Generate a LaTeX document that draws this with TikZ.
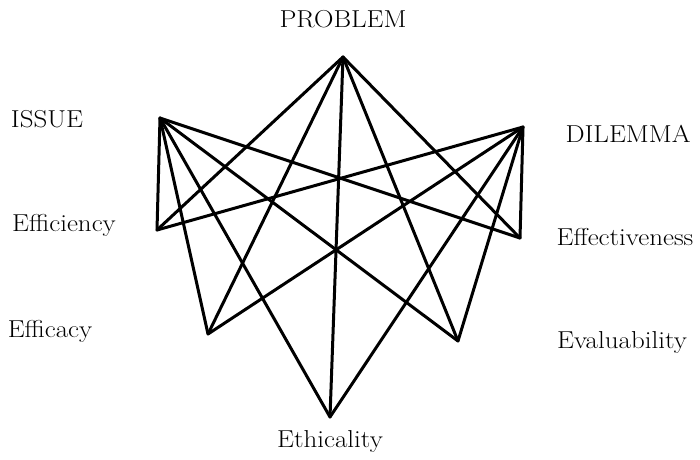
\documentclass[tikz,border=0pt]{standalone}
\usepackage{fontspec}
\newcommand{\lb}[1]{\scalebox{1.3}[1.18]{#1}}
\tikzset{
  edge/.style={line width=3pt, line join=round, line cap=round, black},
  lbl/.style={anchor=base, inner sep=0pt, font=\huge}
}
\begin{document}
\begin{tikzpicture}[x=1pt,y=-1pt]
\useasboundingbox (0,0) rectangle (700,459);
% vertices
\coordinate (P) at (343,57);
\coordinate (I) at (160,118);
\coordinate (D) at (523,127);
\coordinate (Eff) at (157,230);
\coordinate (Efn) at (520,238);
\coordinate (Efc) at (208,334);
\coordinate (Evl) at (458,341);
\coordinate (Eth) at (330,417);
% edges
\foreach \a in {P,I,D}
  \foreach \b in {Eff,Efn,Efc,Evl,Eth}
    \draw[edge] (\a) -- (\b);
% labels
\node[lbl] (lP) at (343,27) {\lb{PROBLEM}};
\node[lbl] (lI) at (47,127) {\lb{ISSUE}};
\node[lbl] (lD) at (628,142) {\lb{DILEMMA}};
\node[lbl] (lEff) at (64,231) {\lb{Efficiency}};
\node[lbl] (lEfn) at (625,245) {\lb{Effectiveness}};
\node[lbl] (lEfc) at (50,337) {\lb{Efficacy}};
\node[lbl] (lEvl) at (622,348) {\lb{Evaluability}};
\node[lbl] (lEth) at (330,447) {\lb{Ethicality}};
\end{tikzpicture}
\end{document}
